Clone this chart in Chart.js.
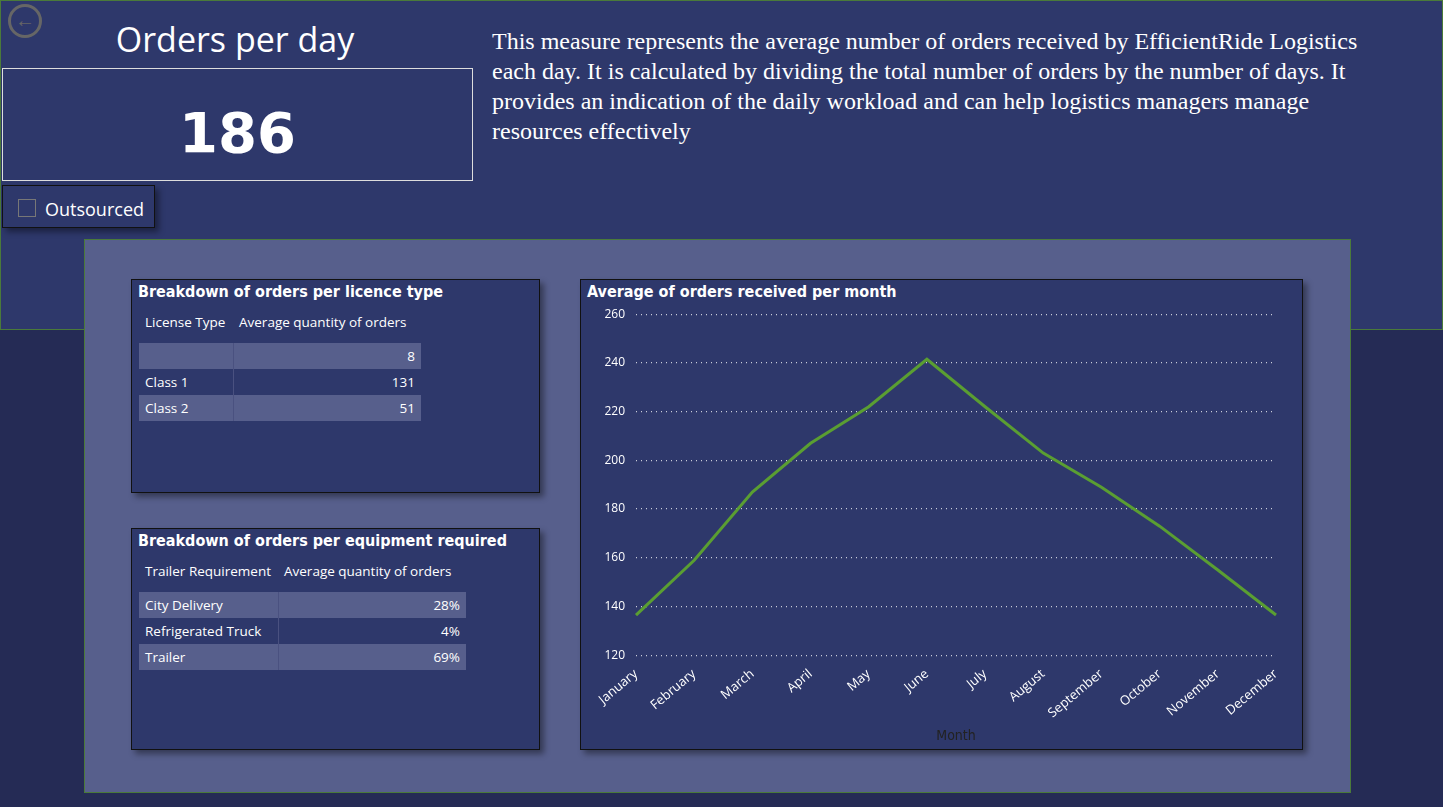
<!DOCTYPE html>
<html>
<head>
<meta charset="utf-8">
<script src="https://cdn.jsdelivr.net/npm/chart.js@4"></script>
<style>
body{margin:0;width:1443px;height:807px;background:#252b55;font-family:"Open Sans",sans-serif;color:#fff;overflow:hidden;position:relative}
div{box-sizing:border-box;position:absolute}
.top{left:0;top:0;width:1443px;height:330px;background:#2e386b;border:1px solid #4a7a3a}
.card{background:#2e386b;border:1px solid #111;box-shadow:4px 4px 6px rgba(0,0,0,.4)}
.ttl{left:6px;top:2px;font:bold 16px "DejaVu Sans Condensed",sans-serif;white-space:nowrap}
table{position:absolute;border-collapse:collapse;font:13.5px "Open Sans",sans-serif}
td{padding:0 6px;height:26px}
.sh td{background:#575f8c}
.r{text-align:right}
</style>
</head>
<body>
<div class="top"></div>
<div style="left:8px;top:4px;width:34px;height:34px;border:3px solid #666;border-radius:50%;color:#666;font:bold 20px sans-serif;text-align:center;line-height:26px">&#8592;</div>
<div style="left:0;top:16px;width:470px;text-align:center;font:34px 'Open Sans',sans-serif">Orders per day</div>
<div style="left:2px;top:68px;width:471px;height:113px;border:1px solid #ddd;text-align:center;font:bold 56px 'DejaVu Sans',sans-serif;line-height:128px">186</div>
<div class="card" style="left:2px;top:185px;width:153px;height:43px;font:18px 'Open Sans',sans-serif;padding:11px 0 0 42px">Outsourced</div>
<div style="left:18px;top:199px;width:18px;height:18px;border:1px solid #777"></div>
<div style="left:492px;top:26px;width:868px;font:24px 'Liberation Serif',serif;line-height:30px">This measure represents the average number of orders received by EfficientRide Logistics each day. It is calculated by dividing the total number of orders by the number of days. It provides an indication of the daily workload and can help logistics managers manage resources effectively</div>
<div style="left:84px;top:239px;width:1267px;height:554px;background:#575f8c;border:1px solid #4a7a3a"></div>

<div class="card" style="left:131px;top:279px;width:409px;height:214px">
 <div class="ttl">Breakdown of orders per licence type</div>
 <table id="t1" style="left:7px;top:29px"></table>
</div>
<div class="card" style="left:131px;top:528px;width:409px;height:222px">
 <div class="ttl">Breakdown of orders per equipment required</div>
 <table id="t2" style="left:7px;top:29px"></table>
</div>
<div class="card" style="left:580px;top:279px;width:723px;height:471px">
 <div class="ttl">Average of orders received per month</div>
 <canvas id="c" style="position:absolute;left:0;top:24px" width="721" height="445"></canvas>
</div>
<script>
const licenseTypes = ['', 'Class 1', 'Class 2'];
const licenseValues = ['8', '131', '51'];
const trailerTypes = ['City Delivery', 'Refrigerated Truck', 'Trailer'];
const trailerValues = ['28%', '4%', '69%'];
const months = ['January','February','March','April','May','June','July','August','September','October','November','December'];
const avgOrders = [136.5, 159, 187, 207, 222, 241.5, 222, 203, 189, 173, 155, 136.5];

function montaTabela(id, head, rows, vals, w1, w2) {
	let h = `<tr><td style="width:${w1}px">${head}</td><td style="width:${w2}px">Average quantity of orders</td></tr><tr><td style="height:8px"></td></tr>`;
	rows.forEach((r, i) => {
		h += `<tr class="${i % 2 == 0 ? 'sh' : ''}"><td style="border-right:1px solid #4a5180">${r}</td><td class="r">${vals[i]}</td></tr>`;
	});
	document.getElementById(id).innerHTML = h;
}
montaTabela('t1', 'License Type', licenseTypes, licenseValues, 82, 176);
montaTabela('t2', 'Trailer Requirement', trailerTypes, trailerValues, 127, 176);

new Chart(document.getElementById('c'), {
	type: 'line',
	data: {
		labels: months,
		datasets: [{ data: avgOrders, borderColor: '#5a9e32', borderWidth: 3, pointRadius: 0, tension: 0 }]
	},
	options: {
		responsive: false,
		animation: false,
		layout: { padding: { left: 10, right: 26, top: 8, bottom: 0 } },
		plugins: { legend: { display: false }, tooltip: { enabled: false } },
		scales: {
			x: {
				offset: false,
				grid: { display: false },
				border: { display: false },
				ticks: { color: '#fff', maxRotation: 40, minRotation: 40, font: { size: 13, family: 'Open Sans' } },
				title: { display: true, text: 'Month', color: '#222', font: { size: 14, family: 'DejaVu Sans Condensed' } }
			},
			y: {
				min: 120, max: 260,
				ticks: { stepSize: 20, color: '#fff', font: { size: 12, family: 'Open Sans' } },
				border: { display: false, dash: [1, 4] },
				grid: { color: 'rgba(255,255,255,0.75)', tickLength: 8, tickColor: 'rgba(0,0,0,0)', lineWidth: 1.2 },
				afterFit: s => { s.width = 45; }
			}
		}
	}
});
</script>
</body>
</html>
